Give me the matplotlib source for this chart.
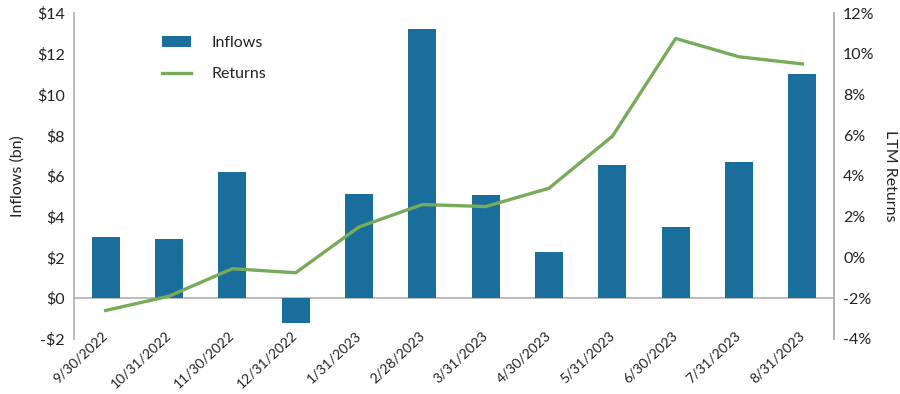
import matplotlib
matplotlib.use("Agg")
import matplotlib.pyplot as plt
from matplotlib.ticker import FuncFormatter

dates = ["9/30/2022", "10/31/2022", "11/30/2022", "12/31/2022", "1/31/2023", "2/28/2023",
         "3/31/2023", "4/30/2023", "5/31/2023", "6/30/2023", "7/31/2023", "8/31/2023"]
inflows = [3.0, 2.9, 6.2, -1.2, 5.1, 13.2, 5.05, 2.25, 6.55, 3.5, 6.7, 11.0]
returns = [-2.6, -1.9, -0.55, -0.75, 1.5, 2.6, 2.5, 3.4, 5.95, 10.75, 9.85, 9.5]

plt.rcParams['font.family'] = ['Lato', 'DejaVu Sans']
bar_color = "#1a6e9b"
line_color = "#77ab59"
grey = "#b0b0b0"
txt = "#222222"
fs = 11.5

fig = plt.figure(figsize=(9, 3.94), dpi=100)
ax = fig.add_axes([0.0822, 0.1396, 0.8445, 0.8274])
x = list(range(len(dates)))
b = ax.bar(x, inflows, width=0.44, color=bar_color, label="Inflows", zorder=2)
ax.set_xlim(-0.5, len(dates) - 0.5)
ax.set_ylim(-2, 14)
ax.set_yticks(range(-2, 15, 2))
ax.yaxis.set_major_formatter(FuncFormatter(lambda v, p: f"-${abs(int(v))}" if v < 0 else f"${int(v)}"))
ax.axhline(0, color=grey, lw=1.2, zorder=1)
for s in ["top", "bottom"]:
    ax.spines[s].set_visible(False)
for s in ["left", "right"]:
    ax.spines[s].set_color(grey)
    ax.spines[s].set_linewidth(1.2)
ax.set_xticks(x)
ax.set_xticklabels(dates, rotation=43, ha="right", va="center", rotation_mode="anchor",
                   fontsize=10, color=txt)
ax.tick_params(axis="x", length=0, pad=-4)
ax.tick_params(axis="y", length=0, labelsize=fs, labelcolor=txt, pad=6.5)
ax.set_ylabel("Inflows (bn)", fontsize=fs, color=txt, labelpad=9)

ax2 = ax.twinx()
l, = ax2.plot(x, returns, color=line_color, lw=2.4, label="Returns", zorder=3)
ax2.set_ylim(-4, 12)
ax2.set_yticks(range(-4, 13, 2))
ax2.yaxis.set_major_formatter(FuncFormatter(lambda v, p: f"{int(v)}%"))
for s in ["top", "bottom", "left"]:
    ax2.spines[s].set_visible(False)
ax2.spines["right"].set_color(grey)
ax2.spines["right"].set_linewidth(1.2)
ax2.tick_params(axis="y", length=0, labelsize=fs, labelcolor=txt, pad=6.5)
ax2.set_ylabel("LTM Returns", fontsize=fs, color=txt, rotation=270, va="bottom", labelpad=6)

leg = ax.legend([b, l], ["Inflows", "Returns"], loc="upper left", bbox_to_anchor=(0.097, 0.975),
                frameon=False, fontsize=fs, handlelength=1.8, handleheight=0.7,
                handletextpad=1.3, labelspacing=1.1)
for t in leg.get_texts():
    t.set_color(txt)

fig.savefig("out.png", dpi=100)
